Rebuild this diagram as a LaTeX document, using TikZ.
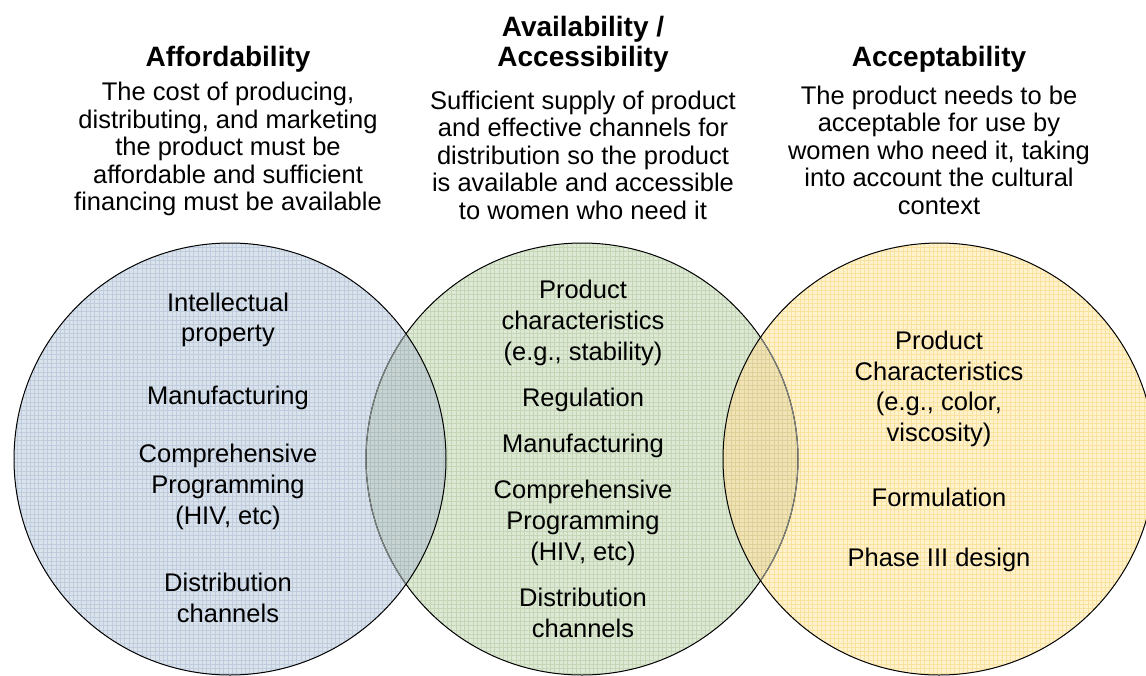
\documentclass[tikz,border=0pt]{standalone}
\usepackage{fontspec}
\setmainfont{Liberation Sans}
\definecolor{blueF}{RGB}{218,226,236}
\definecolor{blueG}{RGB}{190,204,221}
\definecolor{greenF}{RGB}{221,233,212}
\definecolor{greenG}{RGB}{196,214,182}
\definecolor{yellowF}{RGB}{255,242,205}
\definecolor{yellowG}{RGB}{249,226,160}
\definecolor{lmF}{RGB}{200,212,210}
\definecolor{lmG}{RGB}{176,192,193}
\definecolor{mrF}{RGB}{240,228,183}
\definecolor{mrG}{RGB}{224,208,154}
\definecolor{faint}{RGB}{125,132,130}
\newcommand{\gridin}[5]{%
  \foreach \gx in {#1,#2,...,#3} \draw[#5, gridline] (\gx,230) -- (\gx,690);
  \foreach \gy in {230,234.3,...,690} \draw[#5, gridline] (#1,\gy) -- (#3,\gy);
}
\begin{document}
\begin{tikzpicture}[x=1pt,y=-1pt,
  ttl/.style={font=\fontsize{28}{30}\selectfont\bfseries, align=center, inner sep=0pt},
  hdr/.style={font=\fontsize{25.5}{27.5}\selectfont, align=center, inner sep=0pt},
  ctx/.style={font=\fontsize{25.5}{30.8}\selectfont, align=center, inner sep=0pt},
  gridline/.style={line width=0.45pt},
  rim/.style={line width=1pt, draw=black}
]
\useasboundingbox (0,0) rectangle (1146,675);
\def\R{216}
\coordinate (L) at (230,459);
\coordinate (M) at (582,459);
\coordinate (Rc) at (939,459);

% circle fills with grid texture
\begin{scope}
  \clip (L) circle (\R);
  \fill[blueF] (0,230) rectangle (460,690);
  \gridin{0}{4.3}{460}{}{blueG}
\end{scope}
\begin{scope}
  \clip (M) circle (\R);
  \fill[greenF] (360,230) rectangle (800,690);
  \gridin{361.2}{365.5}{800}{}{greenG}
\end{scope}
\begin{scope}
  \clip (Rc) circle (\R);
  \fill[yellowF] (715,230) rectangle (1160,690);
  \gridin{718.1}{722.4}{1160}{}{yellowG}
\end{scope}
% overlaps
\begin{scope}
  \clip (L) circle (\R);
  \clip (M) circle (\R);
  \fill[lmF] (360,230) rectangle (460,690);
  \gridin{361.2}{365.5}{460}{}{lmG}
\end{scope}
\begin{scope}
  \clip (M) circle (\R);
  \clip (Rc) circle (\R);
  \fill[mrF] (715,230) rectangle (800,690);
  \gridin{718.1}{722.4}{800}{}{mrG}
\end{scope}
% outlines
\draw[rim] (M) circle (\R);
\begin{scope}
  \clip (L) circle (\R);
  \draw[faint, line width=1pt] (M) circle (\R);
\end{scope}
\begin{scope}
  \clip (Rc) circle (\R);
  \draw[faint, line width=1pt] (M) circle (\R);
\end{scope}
\draw[rim] (L) circle (\R);
\draw[rim] (Rc) circle (\R);

% headers
\node[ttl] (t1) at (228,59) {Affordability};
\node[hdr] (b1) at (228,149) {The cost of producing,\\distributing, and marketing\\the product must be\\affordable and sufficient\\financing must be available};
\node[ttl] (t2) at (583,44) {Availability /\\Accessibility};
\node[hdr] (b2) at (583,155) {Sufficient supply of product\\and effective channels for\\distribution so the product\\is available and accessible\\to women who need it};
\node[ttl] (t3) at (939,59) {Acceptability};
\node[hdr] (b3) at (939,150) {The product needs to be\\acceptable for use by\\women who need it, taking\\into account the cultural\\context};

% left circle
\node[ctx] (l1) at (228,320) {Intellectual\\property};
\node[ctx] (l2) at (228,398) {Manufacturing};
\node[ctx] (l3) at (228,487) {Comprehensive\\Programming\\(HIV, etc)};
\node[ctx] (l4) at (228,598) {Distribution\\channels};
% middle circle
\node[ctx] (m1) at (583,323) {Product\\characteristics\\(e.g., stability)};
\node[ctx] (m2) at (583,400) {Regulation};
\node[ctx] (m3) at (583,446) {Manufacturing};
\node[ctx] (m4) at (583,523) {Comprehensive\\Programming\\(HIV, etc)};
\node[ctx] (m5) at (583,613) {Distribution\\channels};
% right circle
\node[ctx] (r1) at (939,389) {Product\\Characteristics\\(e.g., color,\\viscosity)};
\node[ctx] (r2) at (939,497) {Formulation};
\node[ctx] (r3) at (939,560) {Phase III design};
\end{tikzpicture}
\end{document}
